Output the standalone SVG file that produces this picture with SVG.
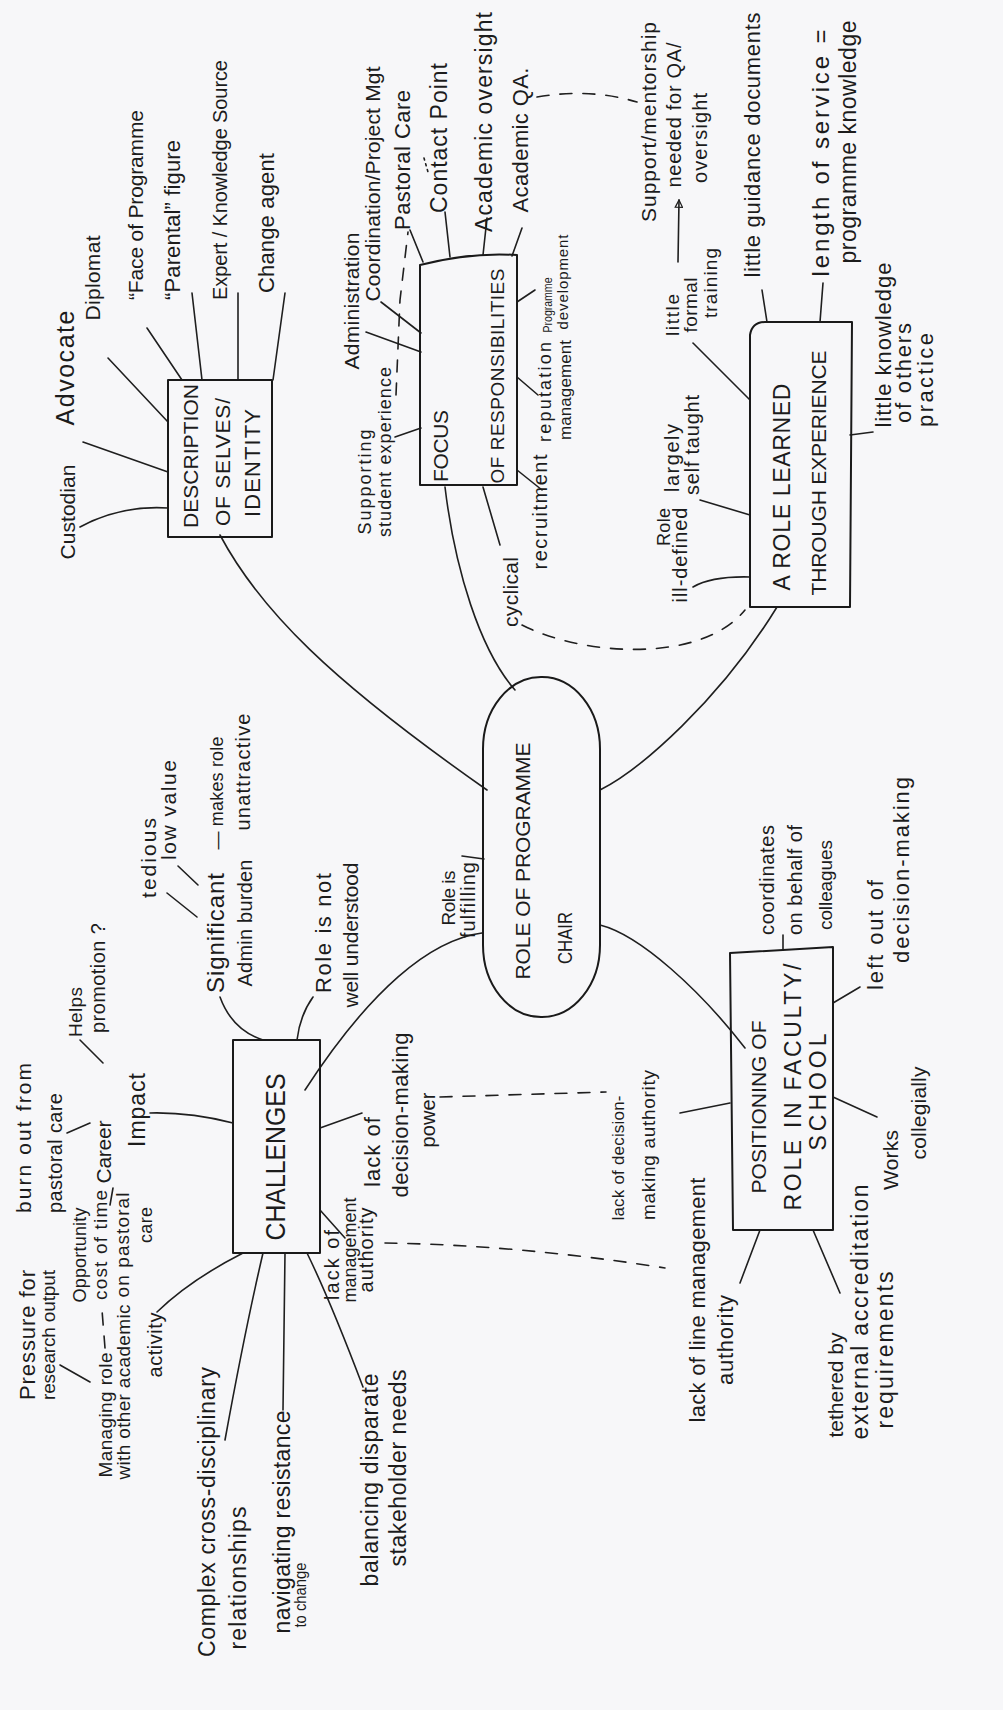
<svg xmlns="http://www.w3.org/2000/svg" width="1003" height="1710" viewBox="0 0 1003 1710">
<style>
.t{font-family:"Liberation Sans",Arial,sans-serif;fill:#1c1c1c;text-anchor:middle;dominant-baseline:central;font-size:20px}
.ln{fill:none;stroke:#1f1f1f;stroke-width:1.6;stroke-linecap:round}
.ds{stroke-dasharray:12 11}
.dt{stroke-dasharray:2 4}
.box{fill:none;stroke:#1a1a1a;stroke-width:2;stroke-linejoin:round}
</style>
<defs>
<marker id="tri" viewBox="0 0 10 10" refX="9" refY="5" markerWidth="9" markerHeight="9" orient="auto" markerUnits="userSpaceOnUse">
<path d="M1,1 L9,5 L1,9 Z" fill="none" stroke="#1f1f1f" stroke-width="1.4"/>
</marker>
</defs>
<rect width="1003" height="1710" fill="#f7f7f9"/>

<g id="connectors">
<path class="ln" d="M487,790 C330,680 260,610 220,535"/>
<path class="ln" d="M515,690 C480,650 455,570 445,487"/>
<path class="ln" d="M600,790 C640,770 720,700 777,607"/>
<path class="ln" d="M482,933 C430,940 370,990 305,1090"/>
<path class="ln" d="M600,925 C640,935 700,990 745,1048"/>
<path class="ln" d="M80,527 Q120,505 168,508"/>
<path class="ln" d="M83,442 L168,472"/>
<path class="ln" d="M108,358 L168,422"/>
<path class="ln" d="M147,328 L182,380"/>
<path class="ln" d="M192,293 L202,380"/>
<path class="ln" d="M238,293 L238,380"/>
<path class="ln" d="M285,293 L273,380"/>
<path class="ln" d="M421,352 L366,332"/>
<path class="ln" d="M421,333 L381,302"/>
<path class="ln" d="M423,262 L410,230"/>
<path class="ln" d="M450,257 L445,212"/>
<path class="ln" d="M483,255 L487,218"/>
<path class="ln" d="M512,256 L522,228"/>
<path class="ln" d="M517,302 L535,290"/>
<path class="ln" d="M517,377 L538,395"/>
<path class="ln" d="M517,470 L542,490"/>
<path class="ln" d="M483,487 L500,545"/>
<path class="ln" d="M421,428 L395,437"/>
<path class="ln ds" d="M396,395 L400,300 L408,232"/>
<path class="ln dt" d="M424,158 L428,172"/>
<path class="ln ds" d="M537,97 Q590,88 637,102"/>
<path class="ln ds" d="M522,625 C580,655 700,665 745,610"/>
<path class="ln" d="M693,587 Q712,576 750,577"/>
<path class="ln" d="M700,500 L750,515"/>
<path class="ln" d="M693,343 L750,400"/>
<path class="ln" d="M678,262 L679,200" marker-end="url(#tri)"/>
<path class="ln" d="M767,322 L762,290"/>
<path class="ln" d="M820,322 L823,283"/>
<path class="ln" d="M850,435 L873,432"/>
<path class="ln" d="M313,997 Q300,1015 297,1040"/>
<path class="ln" d="M220,997 Q232,1030 263,1040"/>
<path class="ln" d="M167,893 L197,917"/>
<path class="ln" d="M178,866 L198,885"/>
<path class="ln" d="M150,1113 Q190,1112 233,1123"/>
<path class="ln" d="M67,1133 L90,1123"/>
<path class="ln" d="M80,1040 L103,1063"/>
<path class="ln" d="M110,1205 L113,1188"/>
<path class="ln" d="M157,1312 Q190,1280 243,1253"/>
<path class="ln" d="M225,1440 Q245,1330 263,1253"/>
<path class="ln" d="M283,1410 L285,1253"/>
<path class="ln" d="M363,1387 Q330,1300 307,1253"/>
<path class="ln" d="M320,1210 L345,1238"/>
<path class="ln" d="M320,1128 L362,1113"/>
<path class="ln" d="M60,1365 L90,1382"/>
<path class="ln ds" d="M105,1348 L102,1310"/>
<path class="ln ds" d="M440,1097 L606,1092"/>
<path class="ln ds" d="M385,1243 Q520,1245 665,1268"/>
<path class="ln" d="M462,856 L484,859"/>
<path class="ln" d="M680,1113 L730,1103"/>
<path class="ln" d="M760,1230 L740,1283"/>
<path class="ln" d="M813,1230 L840,1293"/>
<path class="ln" d="M833,1097 L877,1117"/>
<path class="ln" d="M833,1003 L860,987"/>
<path class="ln" d="M783,950 L783,935"/>
</g>

<g id="central">
<rect class="box" x="483" y="677" width="117" height="340" rx="58" ry="72"/>
<text class="t" style="font-size:21px" transform="translate(522,861) rotate(-90)" textLength="237" lengthAdjust="spacing">ROLE OF PROGRAMME</text>
<text class="t" style="font-size:20px" transform="translate(565,938) rotate(-90)" textLength="52" lengthAdjust="spacingAndGlyphs">CHAIR</text>
</g>

<g id="description">
<rect class="box" x="168" y="380" width="104" height="157"/>
<text class="t" style="font-size:21px" transform="translate(190,456) rotate(-90)" textLength="144" lengthAdjust="spacing">DESCRIPTION</text>
<text class="t" style="font-size:21px" transform="translate(222,462) rotate(-90)" textLength="128" lengthAdjust="spacing">OF SELVES/</text>
<text class="t" style="font-size:22px" transform="translate(252,463) rotate(-90)" textLength="108" lengthAdjust="spacing">IDENTITY</text>
</g>
<g id="custodian"><text class="t" style="font-size:21px" transform="translate(67,512) rotate(-90)" textLength="95" lengthAdjust="spacing">Custodian</text></g>
<g id="advocate"><text class="t" style="font-size:25px" transform="translate(65,368) rotate(-90)" textLength="115" lengthAdjust="spacing">Advocate</text></g>
<g id="diplomat"><text class="t" style="font-size:21px" transform="translate(92,278) rotate(-90)" textLength="85" lengthAdjust="spacing">Diplomat</text></g>
<g id="face"><text class="t" style="font-size:21px" transform="translate(135,205) rotate(-90)" textLength="190" lengthAdjust="spacing">“Face of Programme</text></g>
<g id="parental"><text class="t" style="font-size:22px" transform="translate(172,220) rotate(-90)" textLength="160" lengthAdjust="spacing">“Parental” figure</text></g>
<g id="expert"><text class="t" style="font-size:20px" transform="translate(220,180) rotate(-90)" textLength="240" lengthAdjust="spacing">Expert / Knowledge Source</text></g>
<g id="change"><text class="t" style="font-size:22px" transform="translate(266,223) rotate(-90)" textLength="140" lengthAdjust="spacing">Change agent</text></g>

<g id="focus">
<path class="box" d="M420,485 L420,265 Q470,252 517,255 L517,485 Z"/>
<text class="t" style="font-size:21px" transform="translate(440,446) rotate(-90)" textLength="72" lengthAdjust="spacing">FOCUS</text>
<text class="t" style="font-size:19px" transform="translate(497,376) rotate(-90)" textLength="215" lengthAdjust="spacing">OF RESPONSIBILITIES</text>
</g>
<g id="administration"><text class="t" style="font-size:21px" transform="translate(351,301) rotate(-90)" textLength="137" lengthAdjust="spacing">Administration</text></g>
<g id="coordination"><text class="t" style="font-size:21px" transform="translate(372,184) rotate(-90)" textLength="235" lengthAdjust="spacing">Coordination/Project Mgt</text></g>
<g id="pastoral"><text class="t" style="font-size:22px" transform="translate(402,160) rotate(-90)" textLength="140" lengthAdjust="spacing">Pastoral Care</text></g>
<g id="contact"><text class="t" style="font-size:23px" transform="translate(439,138) rotate(-90)" textLength="150" lengthAdjust="spacing">Contact Point</text></g>
<g id="oversight"><text class="t" style="font-size:23px" transform="translate(484,122) rotate(-90)" textLength="220" lengthAdjust="spacing">Academic oversight</text></g>
<g id="qa"><text class="t" style="font-size:22px" transform="translate(520,140) rotate(-90)" textLength="145" lengthAdjust="spacing">Academic QA.</text></g>
<g id="progdev">
<text class="t" style="font-size:12px" transform="translate(548,305) rotate(-90)" textLength="55" lengthAdjust="spacingAndGlyphs">Programme</text>
<text class="t" style="font-size:15px" transform="translate(562,282) rotate(-90)" textLength="95" lengthAdjust="spacing">development</text>
</g>
<g id="reputation">
<text class="t" style="font-size:18px" transform="translate(545,392) rotate(-90)" textLength="100" lengthAdjust="spacing">reputation</text>
<text class="t" style="font-size:17px" transform="translate(565,390) rotate(-90)" textLength="100" lengthAdjust="spacing">management</text>
</g>
<g id="recruitment"><text class="t" style="font-size:20px" transform="translate(540,512) rotate(-90)" textLength="115" lengthAdjust="spacing">recruitment</text></g>
<g id="cyclical"><text class="t" style="font-size:21px" transform="translate(510,592) rotate(-90)" textLength="70" lengthAdjust="spacing">cyclical</text></g>
<g id="supporting">
<text class="t" style="font-size:18px" transform="translate(365,482) rotate(-90)" textLength="105" lengthAdjust="spacing">Supporting</text>
<text class="t" style="font-size:18px" transform="translate(385,452) rotate(-90)" textLength="170" lengthAdjust="spacing">student experience</text>
</g>

<g id="arole">
<path class="box" d="M750,607 L750,335 Q752,322 765,322 L852,322 L850,607 Z"/>
<text class="t" style="font-size:23px" transform="translate(782,487) rotate(-90)" textLength="207" lengthAdjust="spacing">A ROLE LEARNED</text>
<text class="t" style="font-size:21px" transform="translate(818,473) rotate(-90)" textLength="245" lengthAdjust="spacing">THROUGH EXPERIENCE</text>
</g>
<g id="illdefined">
<text class="t" style="font-size:18px" transform="translate(664,527) rotate(-90)" textLength="38" lengthAdjust="spacing">Role</text>
<text class="t" style="font-size:20px" transform="translate(680,555) rotate(-90)" textLength="95" lengthAdjust="spacing">ill-defined</text>
</g>
<g id="selftaught">
<text class="t" style="font-size:20px" transform="translate(672,458) rotate(-90)" textLength="68" lengthAdjust="spacing">largely</text>
<text class="t" style="font-size:20px" transform="translate(692,445) rotate(-90)" textLength="100" lengthAdjust="spacing">self taught</text>
</g>
<g id="training">
<text class="t" style="font-size:19px" transform="translate(672,315) rotate(-90)" textLength="42" lengthAdjust="spacing">little</text>
<text class="t" style="font-size:19px" transform="translate(690,305) rotate(-90)" textLength="55" lengthAdjust="spacing">formal</text>
<text class="t" style="font-size:19px" transform="translate(710,283) rotate(-90)" textLength="70" lengthAdjust="spacing">training</text>
</g>
<g id="mentorship">
<text class="t" style="font-size:21px" transform="translate(648,122) rotate(-90)" textLength="200" lengthAdjust="spacing">Support/mentorship</text>
<text class="t" style="font-size:20px" transform="translate(674,115) rotate(-90)" textLength="145" lengthAdjust="spacing">needed for QA/</text>
<text class="t" style="font-size:20px" transform="translate(700,138) rotate(-90)" textLength="90" lengthAdjust="spacing">oversight</text>
</g>
<g id="guidance"><text class="t" style="font-size:22px" transform="translate(752,145) rotate(-90)" textLength="265" lengthAdjust="spacing">little guidance documents</text></g>
<g id="service">
<text class="t" style="font-size:24px" transform="translate(820,153) rotate(-90)" textLength="247" lengthAdjust="spacing">length of service =</text>
<text class="t" style="font-size:23px" transform="translate(848,142) rotate(-90)" textLength="243" lengthAdjust="spacing">programme knowledge</text>
</g>
<g id="others">
<text class="t" style="font-size:22px" transform="translate(883,345) rotate(-90)" textLength="165" lengthAdjust="spacing">little knowledge</text>
<text class="t" style="font-size:22px" transform="translate(903,373) rotate(-90)" textLength="100" lengthAdjust="spacing">of others</text>
<text class="t" style="font-size:22px" transform="translate(925,380) rotate(-90)" textLength="94" lengthAdjust="spacing">practice</text>
</g>

<g id="fulfilling">
<text class="t" style="font-size:19px" transform="translate(448,898) rotate(-90)" textLength="55" lengthAdjust="spacing">Role is</text>
<text class="t" style="font-size:20px" transform="translate(468,900) rotate(-90)" textLength="76" lengthAdjust="spacing">fulfilling</text>
</g>

<g id="challenges">
<rect class="box" x="233" y="1040" width="87" height="213"/>
<text class="t" style="font-size:28px" transform="translate(275,1157) rotate(-90)" textLength="167" lengthAdjust="spacingAndGlyphs">CHALLENGES</text>
</g>
<g id="notunderstood">
<text class="t" style="font-size:22px" transform="translate(323,933) rotate(-90)" textLength="120" lengthAdjust="spacing">Role is not</text>
<text class="t" style="font-size:21px" transform="translate(350,935) rotate(-90)" textLength="145" lengthAdjust="spacing">well understood</text>
</g>
<g id="adminburden">
<text class="t" style="font-size:24px" transform="translate(215,933) rotate(-90)" textLength="120" lengthAdjust="spacing">Significant</text>
<text class="t" style="font-size:18px" transform="translate(217,793) rotate(-90)" textLength="113" lengthAdjust="spacing">— makes role</text>
<text class="t" style="font-size:20px" transform="translate(245,923) rotate(-90)" textLength="127" lengthAdjust="spacing">Admin burden</text>
<text class="t" style="font-size:20px" transform="translate(243,772) rotate(-90)" textLength="117" lengthAdjust="spacing">unattractive</text>
</g>
<g id="tedious"><text class="t" style="font-size:21px" transform="translate(148,858) rotate(-90)" textLength="80" lengthAdjust="spacing">tedious</text></g>
<g id="lowvalue"><text class="t" style="font-size:21px" transform="translate(168,810) rotate(-90)" textLength="100" lengthAdjust="spacing">low value</text></g>
<g id="promotion">
<text class="t" style="font-size:19px" transform="translate(75,1012) rotate(-90)" textLength="50" lengthAdjust="spacing">Helps</text>
<text class="t" style="font-size:20px" transform="translate(98,978) rotate(-90)" textLength="110" lengthAdjust="spacing">promotion ?</text>
</g>
<g id="burnout">
<text class="t" style="font-size:21px" transform="translate(23,1138) rotate(-90)" textLength="150" lengthAdjust="spacing">burn out from</text>
<text class="t" style="font-size:20px" transform="translate(55,1153) rotate(-90)" textLength="120" lengthAdjust="spacing">pastoral care</text>
</g>
<g id="career">
<text class="t" style="font-size:21px" transform="translate(103,1152) rotate(-90)" textLength="63" lengthAdjust="spacing">Career</text>
<text class="t" style="font-size:23px" transform="translate(137,1110) rotate(-90)" textLength="74" lengthAdjust="spacing">Impact</text>
</g>
<g id="opportunity">
<text class="t" style="font-size:18px" transform="translate(80,1255) rotate(-90)" textLength="95" lengthAdjust="spacing">Opportunity</text>
<text class="t" style="font-size:19px" transform="translate(100,1245) rotate(-90)" textLength="110" lengthAdjust="spacing">cost of time</text>
<text class="t" style="font-size:19px" transform="translate(122,1245) rotate(-90)" textLength="105" lengthAdjust="spacing">on pastoral</text>
<text class="t" style="font-size:18px" transform="translate(146,1225) rotate(-90)" textLength="36" lengthAdjust="spacing">care</text>
</g>
<g id="managing">
<text class="t" style="font-size:19px" transform="translate(105,1415) rotate(-90)" textLength="125" lengthAdjust="spacing">Managing role</text>
<text class="t" style="font-size:19px" transform="translate(123,1392) rotate(-90)" textLength="175" lengthAdjust="spacing">with other academic</text>
<text class="t" style="font-size:20px" transform="translate(155,1345) rotate(-90)" textLength="65" lengthAdjust="spacing">activity</text>
</g>
<g id="pressure">
<text class="t" style="font-size:22px" transform="translate(27,1335) rotate(-90)" textLength="130" lengthAdjust="spacing">Pressure for</text>
<text class="t" style="font-size:19px" transform="translate(48,1335) rotate(-90)" textLength="130" lengthAdjust="spacing">research output</text>
</g>
<g id="complex">
<text class="t" style="font-size:23px" transform="translate(207,1512) rotate(-90)" textLength="290" lengthAdjust="spacing">Complex cross-disciplinary</text>
<text class="t" style="font-size:23px" transform="translate(238,1578) rotate(-90)" textLength="143" lengthAdjust="spacing">relationships</text>
</g>
<g id="navigating">
<text class="t" style="font-size:23px" transform="translate(282,1522) rotate(-90)" textLength="223" lengthAdjust="spacing">navigating resistance</text>
<text class="t" style="font-size:16px" transform="translate(300,1595) rotate(-90)" textLength="65" lengthAdjust="spacingAndGlyphs">to change</text>
</g>
<g id="balancing">
<text class="t" style="font-size:23px" transform="translate(370,1480) rotate(-90)" textLength="213" lengthAdjust="spacing">balancing disparate</text>
<text class="t" style="font-size:23px" transform="translate(398,1468) rotate(-90)" textLength="197" lengthAdjust="spacing">stakeholder needs</text>
</g>
<g id="decisionpower">
<text class="t" style="font-size:22px" transform="translate(372,1152) rotate(-90)" textLength="70" lengthAdjust="spacing">lack of</text>
<text class="t" style="font-size:22px" transform="translate(400,1115) rotate(-90)" textLength="165" lengthAdjust="spacing">decision-making</text>
<text class="t" style="font-size:20px" transform="translate(428,1120) rotate(-90)" textLength="55" lengthAdjust="spacing">power</text>
</g>
<g id="mgmtauthority">
<text class="t" style="font-size:20px" transform="translate(332,1265) rotate(-90)" textLength="70" lengthAdjust="spacing">lack of</text>
<text class="t" style="font-size:18px" transform="translate(350,1250) rotate(-90)" textLength="105" lengthAdjust="spacing">management</text>
<text class="t" style="font-size:20px" transform="translate(366,1250) rotate(-90)" textLength="85" lengthAdjust="spacing">authority</text>
</g>

<g id="positioning">
<path class="box" d="M730,953 L833,947 L833,1230 L733,1230 Z"/>
<text class="t" style="font-size:21px" transform="translate(758,1107) rotate(-90)" textLength="173" lengthAdjust="spacing">POSITIONING OF</text>
<text class="t" style="font-size:23px" transform="translate(793,1087) rotate(-90)" textLength="247" lengthAdjust="spacing">ROLE IN FACULTY/</text>
<text class="t" style="font-size:23px" transform="translate(818,1092) rotate(-90)" textLength="117" lengthAdjust="spacing">SCHOOL</text>
</g>
<g id="decisionauthority">
<text class="t" style="font-size:17px" transform="translate(618,1158) rotate(-90)" textLength="125" lengthAdjust="spacing">lack of decision-</text>
<text class="t" style="font-size:19px" transform="translate(648,1145) rotate(-90)" textLength="150" lengthAdjust="spacing">making authority</text>
</g>
<g id="linemgmt">
<text class="t" style="font-size:22px" transform="translate(697,1300) rotate(-90)" textLength="245" lengthAdjust="spacing">lack of line management</text>
<text class="t" style="font-size:22px" transform="translate(725,1340) rotate(-90)" textLength="90" lengthAdjust="spacing">authority</text>
</g>
<g id="tethered">
<text class="t" style="font-size:21px" transform="translate(835,1385) rotate(-90)" textLength="105" lengthAdjust="spacing">tethered by</text>
<text class="t" style="font-size:23px" transform="translate(860,1312) rotate(-90)" textLength="255" lengthAdjust="spacing">external accreditation</text>
<text class="t" style="font-size:23px" transform="translate(885,1350) rotate(-90)" textLength="157" lengthAdjust="spacing">requirements</text>
</g>
<g id="collegially">
<text class="t" style="font-size:21px" transform="translate(890,1160) rotate(-90)" textLength="60" lengthAdjust="spacing">Works</text>
<text class="t" style="font-size:21px" transform="translate(918,1113) rotate(-90)" textLength="93" lengthAdjust="spacing">collegially</text>
</g>
<g id="leftout">
<text class="t" style="font-size:22px" transform="translate(875,935) rotate(-90)" textLength="110" lengthAdjust="spacing">left out of</text>
<text class="t" style="font-size:22px" transform="translate(901,870) rotate(-90)" textLength="186" lengthAdjust="spacing">decision-making</text>
</g>
<g id="coordinates">
<text class="t" style="font-size:20px" transform="translate(767,880) rotate(-90)" textLength="110" lengthAdjust="spacing">coordinates</text>
<text class="t" style="font-size:20px" transform="translate(795,880) rotate(-90)" textLength="110" lengthAdjust="spacing">on behalf of</text>
<text class="t" style="font-size:19px" transform="translate(825,885) rotate(-90)" textLength="90" lengthAdjust="spacing">colleagues</text>
</g>
</svg>
